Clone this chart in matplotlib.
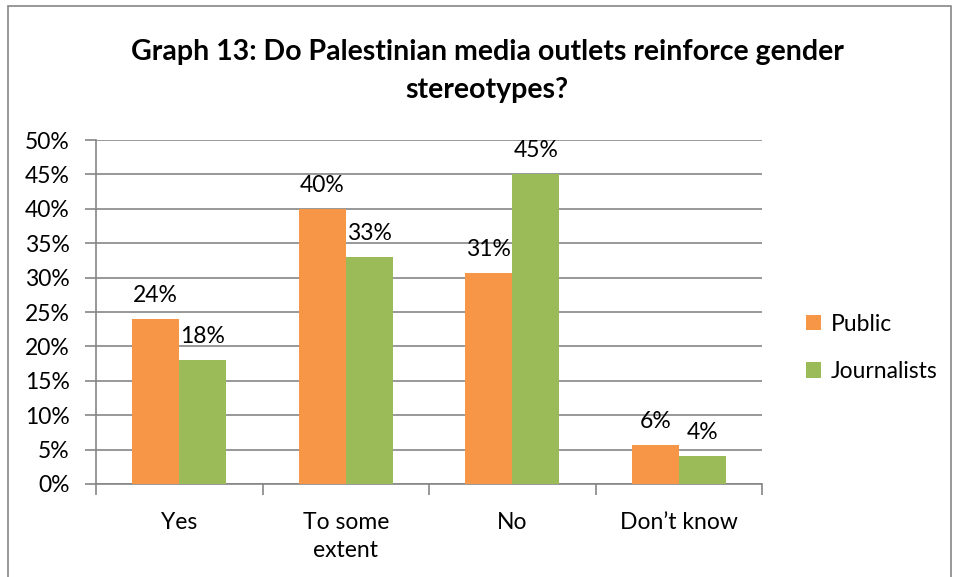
import matplotlib.pyplot as plt
import numpy as np
from matplotlib.patches import Rectangle

plt.rcParams['font.family'] = ['Lato', 'DejaVu Sans']

categories = ['Yes', 'To some\nextent', 'No', 'Don\u2019t know']
public = [24, 40, 30.6, 5.7]
journalists = [18, 33, 45, 4]
series_names = ['Public', 'Journalists']
colors = ['#F79646', '#9BBB59']
grid_col = '#868686'
fs = 16.5

fig = plt.figure(figsize=(9.55, 5.77), dpi=100)
ax = fig.add_axes([96 / 955, 1 - 484 / 577, (762 - 96) / 955, (484 - 140) / 577])

x = np.arange(len(categories))
w = 0.283
ax.bar(x - w / 2, public, w, color=colors[0], label=series_names[0], zorder=3)
ax.bar(x + w / 2, journalists, w, color=colors[1], label=series_names[1], zorder=3)

for xs, vals in [(x - w / 2, public), (x + w / 2, journalists)]:
    for xi, v in zip(xs, vals):
        ax.text(xi, v + 1.9, f'{v:.0f}%', ha='center', va='bottom', fontsize=fs)

ax.set_xlim(-0.5, len(categories) - 0.5)
ax.set_ylim(0, 50)
ax.set_yticks(np.arange(0, 51, 5))
ax.set_yticklabels([f'{t}%' for t in range(0, 51, 5)], fontsize=fs)
ax.yaxis.grid(True, color=grid_col, linewidth=1.2)
ax.set_axisbelow(True)

ax.set_xticks(np.arange(-0.5, len(categories), 1))
ax.set_xticklabels([])
ax.set_xticks(x, minor=True)
ax.set_xticklabels(categories, minor=True, fontsize=fs, linespacing=1.45, va='top')
ax.tick_params(axis='x', which='minor', length=0, pad=20)
ax.tick_params(axis='x', which='major', length=8, color=grid_col, width=1.2)
ax.tick_params(axis='y', length=8, color=grid_col, width=1.2, pad=11)

for s in ['top', 'right']:
    ax.spines[s].set_visible(False)
for s in ['left', 'bottom']:
    ax.spines[s].set_color(grid_col)
    ax.spines[s].set_linewidth(1.2)

fig.legend(loc='upper left', bbox_to_anchor=(785 / 955, 1 - 293 / 577),
           frameon=False, fontsize=fs, handlelength=0.65, handleheight=0.65,
           handletextpad=0.45, labelspacing=1.15)

fig.text(487 / 955, 1 - 52 / 577, 'Graph 13: Do Palestinian media outlets reinforce gender',
         ha='center', va='center', fontsize=20.5, fontweight='bold')
fig.text(487 / 955, 1 - 90 / 577, 'stereotypes?',
         ha='center', va='center', fontsize=20.5, fontweight='bold')

fig.patches.append(Rectangle((8 / 955, -0.01), 943 / 955, 1.0, transform=fig.transFigure,
                             fill=False, edgecolor='#868686', linewidth=1.2))

fig.savefig('out.png', dpi=100)
